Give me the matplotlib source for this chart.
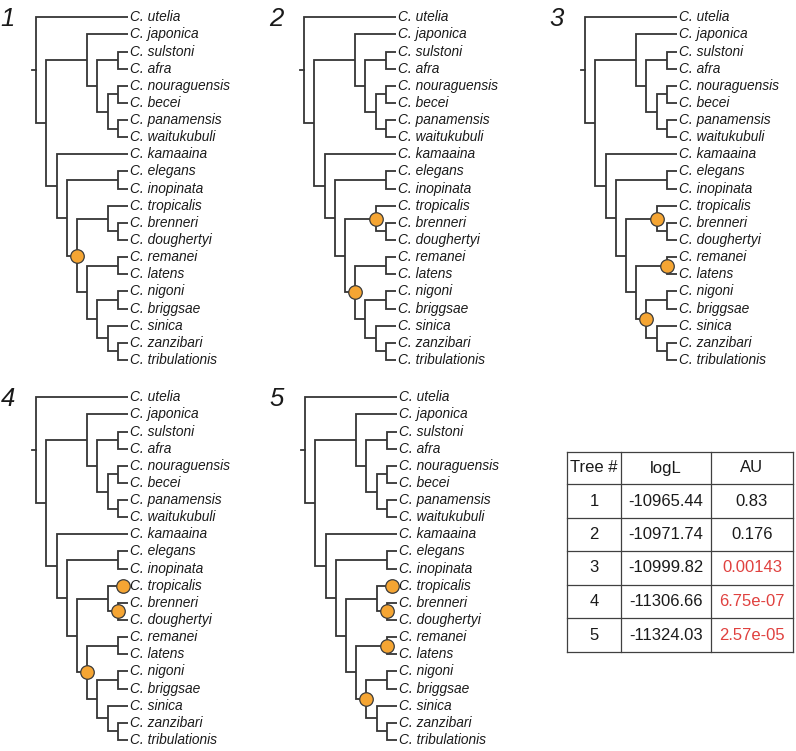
import matplotlib.pyplot as plt

plt.rcParams['font.family'] = ['Liberation Sans', 'DejaVu Sans']

# === DATA ===
# shared topology of the five candidate trees (nested tuples, tips are species)
topology = (
    "utelia",
    (
        ("japonica",
         (("sulstoni", "afra"),
          (("nouraguensis", "becei"), ("panamensis", "waitukubuli")))),
        ("kamaaina",
         (("elegans", "inopinata"),
          (("tropicalis", ("brenneri", "doughertyi")),
           (("remanei", "latens"),
            (("nigoni", "briggsae"), ("sinica", ("zanzibari", "tribulationis"))))))),
    ),
)

# clades marked with an orange dot in each tree (by their member tips)
marked_tree1 = [["tropicalis", "brenneri", "doughertyi", "remanei", "latens",
                 "nigoni", "briggsae", "sinica", "zanzibari", "tribulationis"]]
marked_tree2 = [["tropicalis", "brenneri", "doughertyi"],
                ["remanei", "latens", "nigoni", "briggsae", "sinica", "zanzibari", "tribulationis"]]
marked_tree3 = [["tropicalis", "brenneri", "doughertyi"],
                ["remanei", "latens"],
                ["nigoni", "briggsae", "sinica", "zanzibari", "tribulationis"]]
marked_tree4 = [["tropicalis"],
                ["brenneri", "doughertyi"],
                ["remanei", "latens", "nigoni", "briggsae", "sinica", "zanzibari", "tribulationis"]]
marked_tree5 = [["tropicalis"],
                ["brenneri", "doughertyi"],
                ["remanei", "latens"],
                ["nigoni", "briggsae", "sinica", "zanzibari", "tribulationis"]]

tree_ids = [1, 2, 3, 4, 5]
logL = [-10965.44, -10971.74, -10999.82, -11306.66, -11324.03]
au = [0.83, 0.176, 0.00143, 6.75e-07, 2.57e-05]

# === LAYOUT (pixels) ===
TIP_X = 128.0
TIP_Y0 = 17.3
TIP_DY = 17.13
STEP = 10.2
LINE_C = "#353535"
DOT_C = "#F5A533"
panel_origin = [(0, 0), (268, 0), (549, 0), (0, 380), (269, 380)]
marked_all = [marked_tree1, marked_tree2, marked_tree3, marked_tree4, marked_tree5]


def draw_tree(ax, x0, y0, marked):
    positions = {}
    counter = [0]

    def walk(node):
        if isinstance(node, str):
            y = y0 + TIP_Y0 + counter[0] * TIP_DY
            counter[0] += 1
            ax.text(x0 + TIP_X + 2, y, f"C. {node}", fontsize=9.9, style="italic",
                    ha="left", va="center", color="#1a1a1a")
            key = frozenset([node])
            positions[key] = (x0 + TIP_X - 0.5 * STEP, y)
            return 0, x0 + TIP_X, y, key
        kids = [walk(c) for c in node]
        h = max(k[0] for k in kids) + 1
        x = x0 + TIP_X - h * STEP
        (_, xa, ya, ka), (_, xb, yb, kb) = kids
        ax.plot([xa, x, x, xb], [ya, ya, yb, yb], color=LINE_C, lw=1.3,
                solid_joinstyle="miter", solid_capstyle="butt", zorder=2)
        y = (ya + yb) / 2
        key = ka | kb
        positions[key] = (x, y)
        return h, x, y, key

    _, rx, ry, _ = walk(topology)
    ax.plot([rx - 4, rx], [ry, ry], color=LINE_C, lw=1.3, zorder=2)

    for clade in marked:
        px, py = positions[frozenset(clade)]
        ax.scatter([px], [py], s=95, color=DOT_C, edgecolor="#3a3a3a",
                   linewidth=0.9, zorder=3)


fig = plt.figure(figsize=(7.96, 7.51), dpi=100)
ax = fig.add_axes([0, 0, 1, 1])
ax.set_xlim(0, 796)
ax.set_ylim(751, 0)
ax.axis("off")

for tid, (x0, y0), marked in zip(tree_ids, panel_origin, marked_all):
    draw_tree(ax, x0, y0, marked)
    ax.text(x0 + 8, y0 + 19, str(tid), fontsize=18.5, style="italic",
            ha="center", va="center", color="#1a1a1a")

# === TABLE ===
col_edges = [567, 621, 711, 793]
row_edges = [452, 484, 518, 551, 585, 618, 652]
for y in row_edges:
    ax.plot([col_edges[0], col_edges[-1]], [y, y], color="#404040", lw=0.9)
for x in col_edges:
    ax.plot([x, x], [row_edges[0], row_edges[-1]], color="#404040", lw=0.9)

col_mid = [(a + b) / 2 for a, b in zip(col_edges[:-1], col_edges[1:])]
row_mid = [(a + b) / 2 for a, b in zip(row_edges[:-1], row_edges[1:])]

for cx, head in zip(col_mid, ["Tree #", "logL", "AU"]):
    ax.text(cx, row_mid[0], head, fontsize=12, ha="center", va="center", color="#1a1a1a")

for ry, tid, ll, p in zip(row_mid[1:], tree_ids, logL, au):
    ax.text(col_mid[0], ry, str(tid), fontsize=12, ha="center", va="center", color="#1a1a1a")
    ax.text(col_mid[1], ry, f"{ll:.2f}", fontsize=12, ha="center", va="center", color="#1a1a1a")
    ax.text(col_mid[2], ry, f"{p:.3g}", fontsize=12, ha="center", va="center",
            color="#E0413F" if p < 0.05 else "#1a1a1a")

fig.savefig("out.png", dpi=100)
